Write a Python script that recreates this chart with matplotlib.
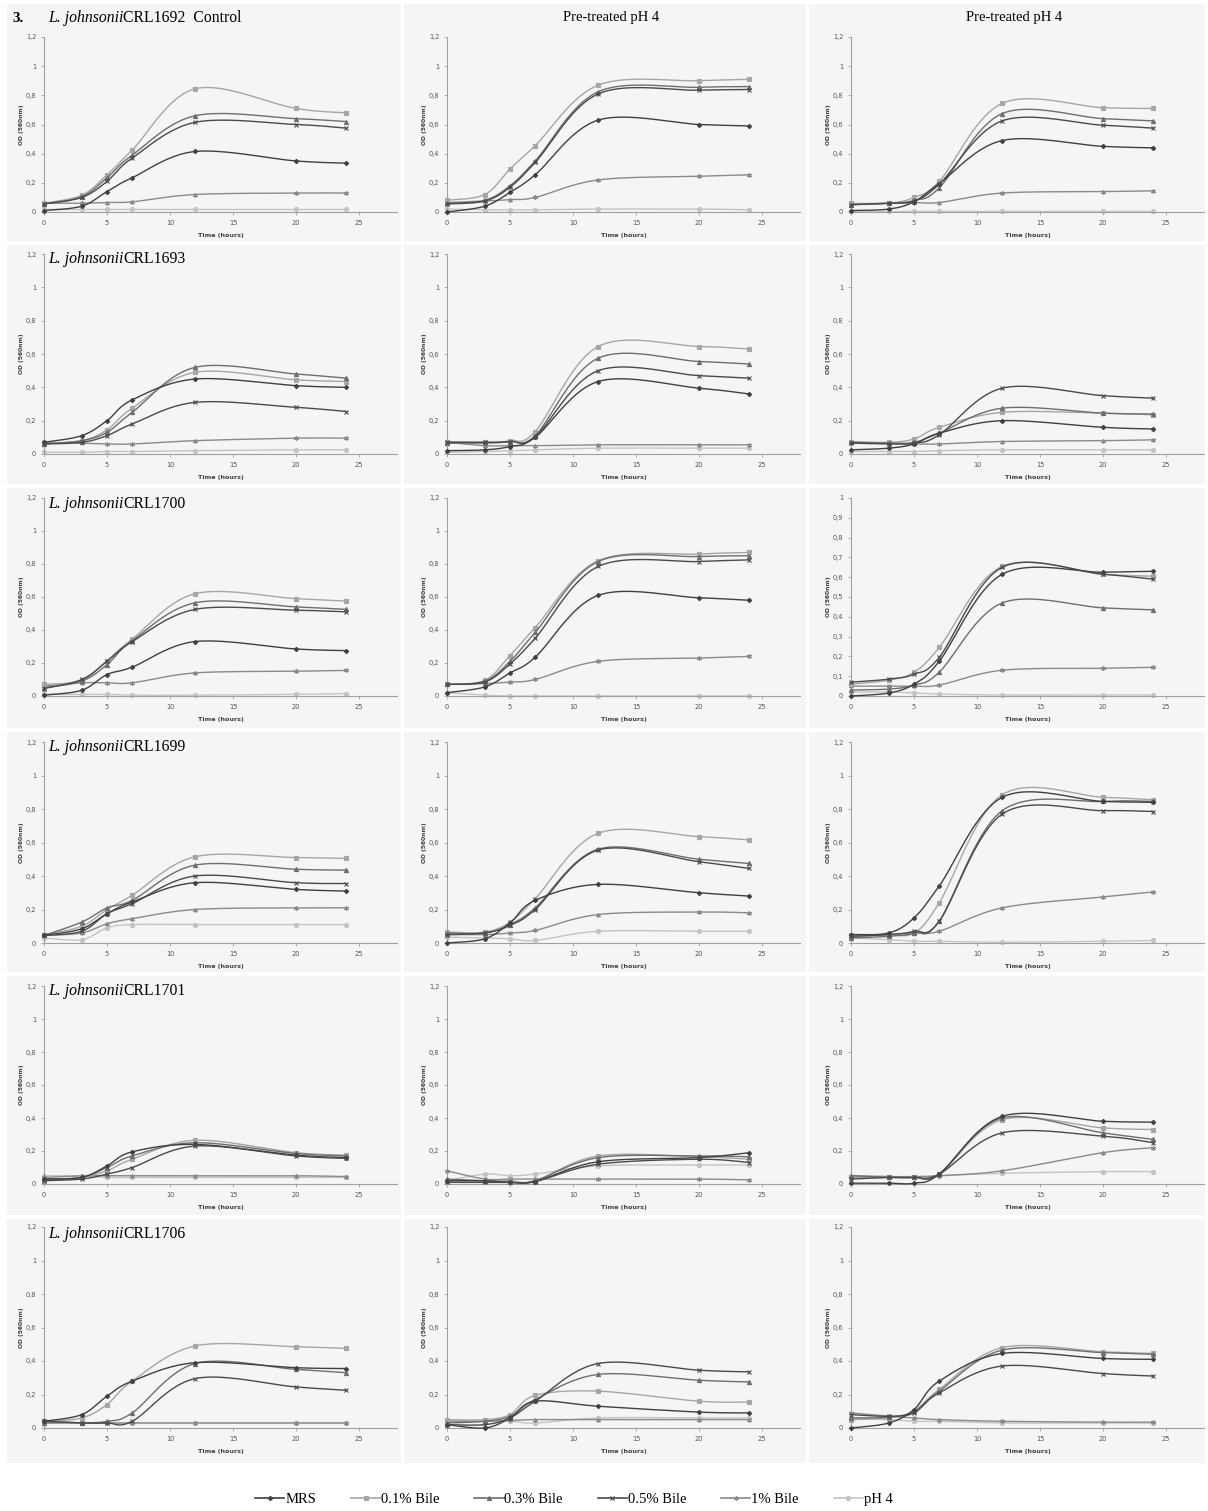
import numpy as np
import matplotlib
matplotlib.use("Agg")
import matplotlib.pyplot as plt
from matplotlib.lines import Line2D
from matplotlib.patches import Rectangle
from matplotlib.ticker import FuncFormatter, FixedLocator

# ---------------- data ----------------
time_h = [0, 3, 5, 7, 12, 20, 24]
series_names = ["MRS", "0.1% Bile", "0.3% Bile", "0.5% Bile", "1% Bile", "pH 4"]
strains = ["CRL1692", "CRL1693", "CRL1700", "CRL1699", "CRL1701", "CRL1706"]
column_titles = ["Control", "Pre-treated pH 4", "Pre-treated pH 4"]

# each panel: one row per series, in the order of series_names
crl1692_control = [
    [0.01, 0.04, 0.14, 0.235, 0.415, 0.35, 0.335],
    [0.06, 0.115, 0.255, 0.425, 0.845, 0.71, 0.68],
    [0.055, 0.105, 0.235, 0.39, 0.66, 0.64, 0.62],
    [0.055, 0.10, 0.21, 0.37, 0.615, 0.60, 0.575],
    [0.06, 0.06, 0.065, 0.07, 0.12, 0.13, 0.13],
    [0.02, 0.02, 0.02, 0.02, 0.02, 0.02, 0.02],
]
crl1692_pre_a = [
    [0.0, 0.04, 0.135, 0.255, 0.63, 0.60, 0.59],
    [0.08, 0.12, 0.295, 0.455, 0.87, 0.90, 0.91],
    [0.06, 0.08, 0.18, 0.35, 0.825, 0.855, 0.86],
    [0.055, 0.075, 0.17, 0.34, 0.81, 0.835, 0.84],
    [0.065, 0.075, 0.085, 0.10, 0.22, 0.245, 0.255],
    [0.02, 0.015, 0.015, 0.015, 0.02, 0.02, 0.015],
]
crl1692_pre_b = [
    [0.01, 0.02, 0.07, 0.195, 0.49, 0.45, 0.44],
    [0.06, 0.06, 0.10, 0.21, 0.745, 0.715, 0.71],
    [0.05, 0.06, 0.08, 0.165, 0.675, 0.64, 0.625],
    [0.05, 0.06, 0.075, 0.19, 0.625, 0.595, 0.575],
    [0.055, 0.06, 0.065, 0.065, 0.13, 0.14, 0.145],
    [0.01, 0.01, 0.01, 0.01, 0.01, 0.01, 0.01],
]
crl1693_control = [
    [0.07, 0.11, 0.20, 0.325, 0.45, 0.41, 0.40],
    [0.065, 0.08, 0.145, 0.275, 0.49, 0.445, 0.435],
    [0.06, 0.08, 0.13, 0.25, 0.52, 0.48, 0.455],
    [0.06, 0.07, 0.11, 0.18, 0.31, 0.28, 0.255],
    [0.07, 0.065, 0.06, 0.06, 0.08, 0.095, 0.095],
    [0.01, 0.01, 0.015, 0.015, 0.02, 0.025, 0.025],
]
crl1693_pre_a = [
    [0.02, 0.025, 0.045, 0.10, 0.435, 0.395, 0.36],
    [0.075, 0.07, 0.08, 0.135, 0.645, 0.645, 0.63],
    [0.065, 0.065, 0.075, 0.11, 0.575, 0.555, 0.54],
    [0.07, 0.07, 0.075, 0.105, 0.50, 0.47, 0.455],
    [0.07, 0.05, 0.05, 0.05, 0.055, 0.055, 0.055],
    [0.01, 0.015, 0.02, 0.025, 0.035, 0.035, 0.035],
]
crl1693_pre_b = [
    [0.025, 0.035, 0.06, 0.125, 0.20, 0.16, 0.15],
    [0.075, 0.07, 0.09, 0.16, 0.25, 0.245, 0.235],
    [0.07, 0.065, 0.07, 0.125, 0.275, 0.245, 0.24],
    [0.065, 0.06, 0.065, 0.115, 0.395, 0.35, 0.335],
    [0.065, 0.065, 0.06, 0.06, 0.075, 0.08, 0.085],
    [0.015, 0.015, 0.015, 0.02, 0.025, 0.025, 0.025],
]
crl1700_control = [
    [0.005, 0.035, 0.13, 0.175, 0.33, 0.285, 0.275],
    [0.07, 0.095, 0.215, 0.345, 0.62, 0.59, 0.575],
    [0.05, 0.09, 0.19, 0.335, 0.565, 0.54, 0.525],
    [0.045, 0.10, 0.21, 0.33, 0.525, 0.52, 0.51],
    [0.06, 0.08, 0.08, 0.08, 0.14, 0.15, 0.155],
    [0.01, 0.01, 0.01, 0.005, 0.005, 0.01, 0.015],
]
crl1700_pre_a = [
    [0.02, 0.055, 0.14, 0.235, 0.61, 0.595, 0.58],
    [0.07, 0.095, 0.245, 0.415, 0.82, 0.86, 0.87],
    [0.07, 0.09, 0.21, 0.385, 0.815, 0.845, 0.85],
    [0.07, 0.085, 0.195, 0.35, 0.785, 0.815, 0.825],
    [0.07, 0.075, 0.085, 0.10, 0.21, 0.23, 0.24],
    [0.02, 0.005, 0.0, 0.0, 0.0, 0.0, 0.0],
]
crl1700_pre_b = [
    [0.0, 0.015, 0.06, 0.175, 0.615, 0.625, 0.63],
    [0.06, 0.08, 0.12, 0.245, 0.655, 0.615, 0.605],
    [0.03, 0.035, 0.055, 0.12, 0.47, 0.445, 0.435],
    [0.07, 0.085, 0.11, 0.195, 0.65, 0.615, 0.59],
    [0.05, 0.05, 0.05, 0.055, 0.13, 0.14, 0.145],
    [0.02, 0.02, 0.015, 0.01, 0.005, 0.005, 0.005],
]
crl1699_control = [
    [0.045, 0.085, 0.175, 0.245, 0.36, 0.32, 0.31],
    [0.05, 0.10, 0.20, 0.285, 0.515, 0.51, 0.505],
    [0.045, 0.125, 0.21, 0.255, 0.465, 0.44, 0.435],
    [0.045, 0.07, 0.175, 0.235, 0.40, 0.36, 0.355],
    [0.045, 0.06, 0.115, 0.145, 0.20, 0.21, 0.21],
    [0.03, 0.02, 0.09, 0.11, 0.11, 0.11, 0.11],
]
crl1699_pre_a = [
    [0.0, 0.025, 0.12, 0.255, 0.35, 0.30, 0.28],
    [0.065, 0.065, 0.125, 0.265, 0.655, 0.635, 0.615],
    [0.06, 0.06, 0.11, 0.21, 0.56, 0.50, 0.475],
    [0.05, 0.06, 0.105, 0.20, 0.555, 0.485, 0.445],
    [0.05, 0.05, 0.06, 0.075, 0.17, 0.185, 0.18],
    [0.035, 0.03, 0.025, 0.015, 0.07, 0.07, 0.07],
]
crl1699_pre_b = [
    [0.05, 0.06, 0.15, 0.34, 0.87, 0.845, 0.84],
    [0.05, 0.05, 0.06, 0.24, 0.885, 0.87, 0.855],
    [0.03, 0.04, 0.06, 0.13, 0.79, 0.845, 0.845],
    [0.04, 0.05, 0.07, 0.13, 0.77, 0.79, 0.785],
    [0.04, 0.05, 0.06, 0.07, 0.21, 0.275, 0.305],
    [0.03, 0.02, 0.01, 0.01, 0.005, 0.01, 0.015],
]
crl1701_control = [
    [0.03, 0.04, 0.11, 0.195, 0.24, 0.175, 0.16],
    [0.02, 0.04, 0.08, 0.15, 0.265, 0.19, 0.175],
    [0.03, 0.04, 0.10, 0.17, 0.25, 0.185, 0.17],
    [0.02, 0.03, 0.06, 0.10, 0.23, 0.17, 0.155],
    [0.04, 0.05, 0.05, 0.05, 0.05, 0.05, 0.045],
    [0.05, 0.05, 0.04, 0.04, 0.04, 0.04, 0.04],
]
crl1701_pre_a = [
    [0.02, 0.02, 0.01, 0.015, 0.135, 0.16, 0.19],
    [0.02, 0.02, 0.02, 0.02, 0.17, 0.165, 0.15],
    [0.03, 0.02, 0.01, 0.02, 0.16, 0.17, 0.165],
    [0.01, 0.01, 0.01, 0.015, 0.12, 0.15, 0.13],
    [0.08, 0.03, 0.03, 0.03, 0.03, 0.03, 0.025],
    [0.02, 0.06, 0.05, 0.06, 0.11, 0.115, 0.115],
]
crl1701_pre_b = [
    [0.005, 0.005, 0.005, 0.06, 0.41, 0.38, 0.375],
    [0.04, 0.04, 0.04, 0.06, 0.39, 0.34, 0.33],
    [0.05, 0.04, 0.04, 0.06, 0.40, 0.31, 0.27],
    [0.03, 0.04, 0.04, 0.06, 0.31, 0.29, 0.25],
    [0.05, 0.045, 0.045, 0.05, 0.08, 0.19, 0.22],
    [0.04, 0.04, 0.04, 0.05, 0.065, 0.075, 0.075],
]
crl1706_control = [
    [0.04, 0.08, 0.19, 0.28, 0.39, 0.36, 0.355],
    [0.04, 0.06, 0.14, 0.28, 0.49, 0.485, 0.475],
    [0.03, 0.03, 0.04, 0.09, 0.385, 0.35, 0.33],
    [0.04, 0.03, 0.03, 0.04, 0.295, 0.245, 0.225],
    [0.04, 0.03, 0.03, 0.03, 0.03, 0.03, 0.03],
    [0.04, 0.03, 0.03, 0.03, 0.03, 0.03, 0.03],
]
crl1706_pre_a = [
    [0.02, 0.0, 0.06, 0.16, 0.13, 0.095, 0.09],
    [0.05, 0.05, 0.08, 0.195, 0.22, 0.16, 0.155],
    [0.03, 0.04, 0.07, 0.17, 0.32, 0.285, 0.275],
    [0.02, 0.02, 0.06, 0.16, 0.385, 0.345, 0.335],
    [0.04, 0.04, 0.045, 0.05, 0.05, 0.05, 0.05],
    [0.04, 0.04, 0.04, 0.03, 0.06, 0.06, 0.06],
]
crl1706_pre_b = [
    [0.0, 0.03, 0.11, 0.28, 0.445, 0.415, 0.41],
    [0.05, 0.06, 0.10, 0.23, 0.48, 0.455, 0.445],
    [0.06, 0.065, 0.10, 0.22, 0.465, 0.45, 0.44],
    [0.08, 0.07, 0.09, 0.21, 0.37, 0.325, 0.31],
    [0.09, 0.07, 0.06, 0.05, 0.04, 0.035, 0.035],
    [0.06, 0.05, 0.04, 0.04, 0.03, 0.03, 0.03],
]

panels = [
    [crl1692_control, crl1692_pre_a, crl1692_pre_b],
    [crl1693_control, crl1693_pre_a, crl1693_pre_b],
    [crl1700_control, crl1700_pre_a, crl1700_pre_b],
    [crl1699_control, crl1699_pre_a, crl1699_pre_b],
    [crl1701_control, crl1701_pre_a, crl1701_pre_b],
    [crl1706_control, crl1706_pre_a, crl1706_pre_b],
]

# ---------------- style ----------------
W, H = 1208, 1511
colors = ["#404040", "#a6a6a6", "#6e6e6e", "#4a4a4a", "#8a8a8a", "#c4c4c4"]
markers = ["D", "s", "^", "x", (6, 2, 0), "o"]
msizes = [2.2, 2.9, 3.0, 3.0, 3.6, 3.0]
zorders = [6, 4, 5, 7, 3, 2]

col_x0 = [44, 447, 851]
row_y = [(212, 37), (454, 254), (696, 498), (943, 742), (1184, 986), (1428, 1227)]
px_per_hour = 12.6
xmax = 28.0

serif = "Liberation Serif"


def smooth(x, y, n=24):
    """Excel-like smoothed line (Bezier through the points)."""
    P = np.column_stack([x, y]).astype(float)
    m = len(P)
    out = [P[0]]
    t = np.linspace(0, 1, n)[1:, None]
    for i in range(m - 1):
        p0 = P[i - 1] if i > 0 else P[i]
        p1, p2 = P[i], P[i + 1]
        p3 = P[i + 2] if i + 2 < m else P[i + 1]
        c1 = p1 + (p2 - p0) / 6.0
        c2 = p2 - (p3 - p1) / 6.0
        seg = ((1 - t) ** 3) * p1 + 3 * ((1 - t) ** 2) * t * c1 + 3 * (1 - t) * t ** 2 * c2 + t ** 3 * p2
        out.extend(seg)
    out = np.array(out)
    return out[:, 0], out[:, 1]


def comma_fmt(v, pos):
    s = ("%.1f" % v).rstrip("0").rstrip(".")
    return s.replace(".", ",")


fig = plt.figure(figsize=(W / 100, H / 100), dpi=100)
fig.patch.set_facecolor("white")

# panel backgrounds
col_boxes = [(7, 401), (404, 806), (809, 1205)]
row_boxes = [(4, 241), (245, 484), (488, 728), (732, 972), (976, 1215), (1219, 1463)]
for (ya, yb) in row_boxes:
    for (xa, xb) in col_boxes:
        fig.patches.append(Rectangle((xa / W, 1 - yb / H), (xb - xa) / W, (yb - ya) / H,
                                     transform=fig.transFigure, facecolor="#f5f5f5",
                                     edgecolor="none", zorder=-10))

axis_col = "#a0a0a0"
tick_col = "#555555"

for r in range(6):
    y0, y1 = row_y[r]
    for c in range(3):
        data = panels[r][c]
        x0 = col_x0[c]
        ax = fig.add_axes([x0 / W, 1 - y0 / H, xmax * px_per_hour / W, (y0 - y1) / H])
        ax.set_facecolor("none")
        ax.set_zorder(5)
        ytop = 1.0 if (r == 2 and c == 2) else 1.2
        step = 0.1 if ytop == 1.0 else 0.2
        for k in [5, 0, 4, 1, 2, 3]:
            ys = data[k]
            sx, sy = smooth(time_h, ys)
            ax.plot(sx, sy, color=colors[k], lw=1.0, zorder=zorders[k], solid_capstyle="round",
                    clip_on=False)
            ax.plot(time_h, ys, linestyle="none", marker=markers[k], ms=msizes[k],
                    color=colors[k], mec=colors[k], mew=0.8, zorder=zorders[k], clip_on=False)
        ax.set_xlim(0, xmax)
        ax.set_ylim(0, ytop)
        ax.xaxis.set_major_locator(FixedLocator([0, 5, 10, 15, 20, 25]))
        ax.yaxis.set_major_locator(FixedLocator(list(np.round(np.arange(0, ytop + 1e-9, step), 2))))
        ax.yaxis.set_major_formatter(FuncFormatter(comma_fmt))
        for s in ["top", "right"]:
            ax.spines[s].set_visible(False)
        for s in ["left", "bottom"]:
            ax.spines[s].set_color(axis_col)
            ax.spines[s].set_linewidth(0.8)
        ax.tick_params(axis="both", labelsize=4.8, colors=axis_col, labelcolor=tick_col,
                       length=2, width=0.6, pad=3.5)
        ax.set_xlabel("Time (hours)", fontsize=4.6, fontweight="bold", color="#404040", labelpad=5)
        ax.set_ylabel("OD (560nm)", fontsize=4.3, fontweight="bold", color="#404040", labelpad=1.5)

# titles
renderer = fig.canvas.get_renderer()


def strain_title(xpx, ypx, strain, extra=""):
    t1 = fig.text(xpx / W, 1 - ypx / H, "L. johnsonii", fontsize=11.3, family=serif,
                  style="italic", va="center", ha="left", zorder=10)
    bb = t1.get_window_extent(renderer=renderer)
    fig.text(bb.x1 / W, 1 - ypx / H, strain + extra, fontsize=11.3, family=serif,
             va="center", ha="left", zorder=10)


fig.text(12 / W, 1 - 18 / H, "3.", fontsize=11, family=serif, fontweight="bold",
         va="center", ha="left")
strain_title(48, 18, strains[0], "  " + column_titles[0])
fig.text(611 / W, 1 - 17 / H, column_titles[1], fontsize=10.5, family=serif, va="center", ha="center")
fig.text(1014 / W, 1 - 17 / H, column_titles[2], fontsize=10.5, family=serif, va="center", ha="center")
title_y = [None, 259, 504, 747, 991, 1234]
for r in range(1, 6):
    strain_title(48, title_y[r], strains[r])

# legend
handles = [Line2D([0], [0], color=colors[k], lw=1.2, marker=markers[k], ms=msizes[k],
                  mec=colors[k], mew=0.8) for k in range(6)]
fig.legend(handles, series_names, loc="center", bbox_to_anchor=(0.475, 1 - 1499 / H),
           ncol=6, frameon=False, prop={"family": serif, "size": 10.5},
           handlelength=2.0, handletextpad=0.05, columnspacing=2.4)

fig.savefig("out.png", dpi=100, facecolor="white")
